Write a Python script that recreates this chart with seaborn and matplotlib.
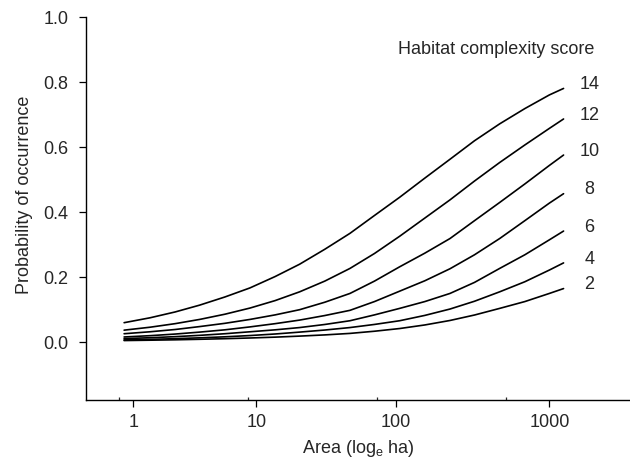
import matplotlib
matplotlib.use('Agg')
import matplotlib.pyplot as plt
import pandas as pd
import seaborn as sns

# data (x in ln(area) units)
ln_area = [0.08, 0.48, 0.87, 1.25, 1.64, 2.03, 2.42, 2.80, 3.19, 3.58,
           3.96, 4.35, 4.74, 5.13, 5.51, 5.90, 6.29, 6.67, 6.89]
p14 = [0.060, 0.075, 0.093, 0.114, 0.139, 0.167, 0.202, 0.240, 0.286, 0.335,
       0.390, 0.446, 0.505, 0.563, 0.620, 0.672, 0.719, 0.761, 0.781]
p12 = [0.037, 0.046, 0.057, 0.070, 0.086, 0.105, 0.128, 0.155, 0.188, 0.227,
       0.273, 0.326, 0.382, 0.438, 0.496, 0.553, 0.607, 0.658, 0.687]
p10 = [0.026, 0.032, 0.039, 0.048, 0.058, 0.070, 0.084, 0.100, 0.123, 0.150,
       0.188, 0.232, 0.274, 0.319, 0.374, 0.430, 0.487, 0.544, 0.576]
p8 = [0.016, 0.020, 0.025, 0.031, 0.038, 0.047, 0.057, 0.068, 0.082, 0.098,
      0.125, 0.157, 0.189, 0.226, 0.269, 0.319, 0.374, 0.428, 0.457]
p6 = [0.011, 0.0137, 0.017, 0.021, 0.026, 0.032, 0.038, 0.045, 0.0545, 0.066,
      0.084, 0.104, 0.125, 0.150, 0.184, 0.227, 0.269, 0.315, 0.342]
p4 = [0.007, 0.0087, 0.0108, 0.0134, 0.0165, 0.0204, 0.0252, 0.031, 0.0374, 0.045,
      0.0546, 0.066, 0.0824, 0.102, 0.126, 0.155, 0.186, 0.222, 0.244]
p2 = [0.005, 0.0061, 0.0073, 0.0089, 0.0107, 0.0129, 0.0155, 0.0187, 0.0224, 0.027,
      0.0337, 0.042, 0.053, 0.0668, 0.0836, 0.104, 0.125, 0.150, 0.165]
scores = [14, 12, 10, 8, 6, 4, 2]

tick_pos = [0.22, 2.13, 4.29, 6.67]
tick_labels = ['1', '10', '100', '1000']
minor_pos = [0, 2, 4, 6]


def main():
    series = [p14, p12, p10, p8, p6, p4, p2]
    rows = []
    for s, vals in zip(scores, series):
        for x, y in zip(ln_area, vals):
            rows.append({'ln_area': x, 'prob': y, 'score': s})
    df = pd.DataFrame(rows)

    sns.set_style('ticks')
    plt.rcParams['font.family'] = ['Liberation Sans', 'DejaVu Sans']
    plt.rcParams['mathtext.fontset'] = 'custom'
    plt.rcParams['mathtext.rm'] = 'Liberation Sans'
    plt.rcParams['mathtext.it'] = 'Liberation Sans'

    fig = plt.figure(figsize=(6.3, 4.61), dpi=100)
    ax = fig.add_axes([0.137, 0.1323, 0.862, 0.8302])

    sns.lineplot(data=df, x='ln_area', y='prob', hue='score',
                 palette=['black'] * len(scores), linewidth=1.2,
                 legend=False, ax=ax)

    # labels at the line ends
    for s, vals in zip(scores, series):
        ax.text(7.29, vals[-1] + 0.012, str(s), ha='center', va='center', fontsize=13)
    ax.text(5.85, 0.90, 'Habitat complexity score', ha='center', va='center', fontsize=13)

    ax.set_xlim(-0.506, 7.91)
    ax.set_ylim(-0.178, 1.0)
    ax.set_xticks(tick_pos)
    ax.set_xticklabels(tick_labels)
    ax.set_xticks(minor_pos, minor=True)
    ax.set_yticks([0.0, 0.2, 0.4, 0.6, 0.8, 1.0])
    ax.tick_params(axis='both', which='major', labelsize=13, length=5, width=0.9, color='black')
    ax.tick_params(axis='x', which='major', pad=5)
    ax.tick_params(axis='y', which='major', pad=8)
    ax.tick_params(axis='x', which='minor', direction='in', length=2, width=0.9)
    for sp in ['left', 'bottom']:
        ax.spines[sp].set_linewidth(1.0)
        ax.spines[sp].set_color('black')
    sns.despine(ax=ax)

    ax.set_xlabel(r'Area (log$_\mathrm{e}$ ha)', fontsize=13)
    ax.set_ylabel('Probability of occurrence', fontsize=13)
    ax.xaxis.set_label_coords(0.5, -0.099)
    ax.yaxis.set_label_coords(-0.098, 0.535)

    fig.savefig('out.png', dpi=100)


if __name__ == "__main__":
    main()
